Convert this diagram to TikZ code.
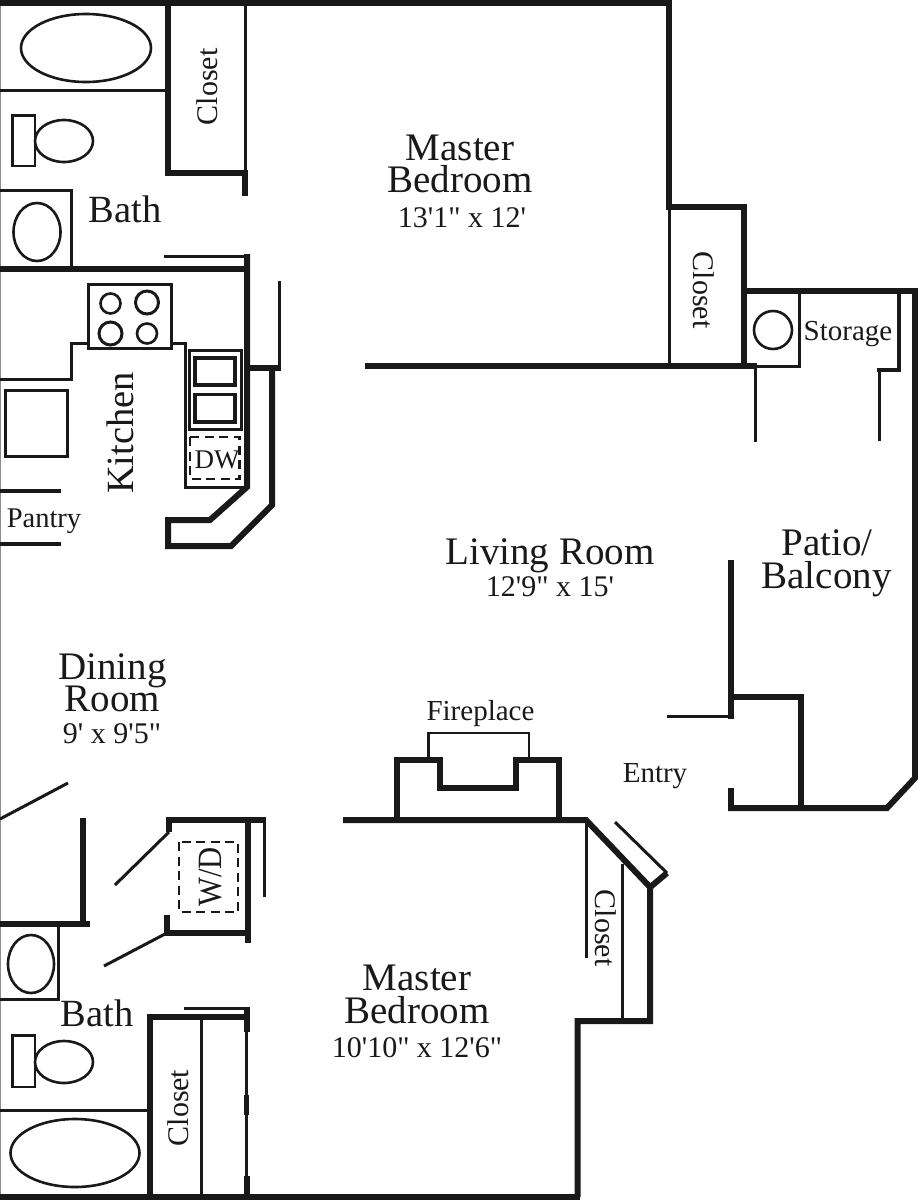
\documentclass[tikz,border=0pt]{standalone}
\usepackage{fontspec}
\setmainfont{Liberation Serif}
\newfontfamily\planfont{Liberation Serif}
\newfontfamily\wdfont{Liberation Serif}[FakeStretch=0.9]
\newcommand{\fsz}[2]{\fontsize{#1}{#2}\selectfont}
\tikzset{
  wall/.style={line width=6pt,black!90,miter limit=10},
  midwall/.style={line width=4.5pt,black!90},
  thin/.style={line width=3pt,black!90},
  fixture/.style={line width=2.6pt,black!90},
  dashbox/.style={line width=2.6pt,black!90,dash pattern=on 9pt off 5.5pt},
  lbl/.style={inner sep=0pt,anchor=base,align=center,text=black!90,font=\planfont},
  big/.style={lbl,font=\planfont\fsz{39}{39}},
  mid/.style={lbl,font=\planfont\fsz{38.5}{38.5}},
  sm/.style={lbl,font=\planfont\fsz{30}{30}},
  tiny/.style={lbl,font=\planfont\fsz{29}{29}}
}
\begin{document}
\begin{tikzpicture}[x=1pt,y=-1pt]
\useasboundingbox (0,0) rectangle (918,1200);
\fill[white] (0,0) rectangle (918,1200);
\draw[line width=1pt,black!45] (0.5,0) -- (0.5,1200);

% --- top walls
\draw[wall] (0,3) -- (669,3) -- (669,207) -- (744,207) -- (744,369);
\draw[wall] (744,291) -- (918,291);
\draw[wall] (915,291) -- (915,778) -- (887,808) -- (728,808);
\draw[wall] (731,808) -- (731,788);
\draw[wall] (801,808) -- (801,697) -- (731,697);
\draw[wall] (731,560) -- (731,719);
\draw[thin] (667,716) -- (733,716);
\draw[wall] (365,366) -- (757,366);
\draw[thin] (669,207) -- (669,366);
\draw[thin] (755,366) -- (755,442);
\draw[thin] (744,366) -- (799,366) -- (799,291);
\draw[midwall] (899,291) -- (899,370) -- (877,370);
\draw[thin] (879,370) -- (879,441);
\draw[fixture] (773,330) circle (19);

% --- top bath
\draw[wall] (168,3) -- (168,173) -- (245,173);
\draw[wall] (245,170) -- (245,196);
\draw[thin] (245,3) -- (245,173);
\draw[thin] (0,90) -- (168,90);
\draw[fixture] (86,48) ellipse (65 and 34);
\draw[fixture] (12.5,115.5) rectangle (35,166);
\draw[fixture] (64,141) ellipse (29 and 21);
\draw[thin] (0,190.5) -- (71,190.5) -- (71,268);
\draw[fixture] (37,232) ellipse (23.5 and 29);
\draw[wall] (0,269) -- (247,269);
\draw[thin] (164,256) -- (247,256);

% --- kitchen
\draw[wall] (247,254) -- (247,487) -- (210,520) -- (168,520) -- (168,546) -- (231,546) -- (272,505) -- (272,368);
\draw[wall] (247,368) -- (281,368);
\draw[thin] (279,281) -- (279,368);
\draw[thin] (88.5,284.5) rectangle (171.5,348.5);
\draw[fixture] (110.5,303.5) circle (10);
\draw[line width=3pt,black!90] (147,302.5) circle (11.5);
\draw[line width=3pt,black!90] (110.5,333.5) circle (11.5);
\draw[fixture] (147,333.5) circle (10);
\draw[thin] (0,379) -- (71,379) -- (71,343) -- (88,343);
\draw[thin] (172,343) -- (185,343) -- (185,487.5) -- (246,487.5);
\draw[thin] (5.5,390.5) rectangle (67.5,456);
\draw[thin] (189.5,350) rectangle (241,429);
\draw[line width=3.5pt,black!90] (195,358) rectangle (235,385);
\draw[line width=3.5pt,black!90] (195,394.5) rectangle (235,422);
\draw[dashbox] (190,437) rectangle (239.5,479);
\draw[midwall] (0,491) -- (61,491);
\draw[midwall] (0,544) -- (61,544);

% --- lower left
\draw[thin] (0,819) -- (68,783);
\draw[wall] (82.5,818) -- (82.5,924);
\draw[wall] (0,924) -- (90,924);
\draw[thin] (0,999.5) -- (58.5,999.5) -- (58.5,924);
\draw[fixture] (31,964) ellipse (23 and 29);

% --- W/D
\draw[wall] (166,820) -- (266,820);
\draw[wall] (169,820) -- (169,832);
\draw[thin] (169,832) -- (115,885);
\draw[wall] (248,820) -- (248,943);
\draw[thin] (264,820) -- (264,897);
\draw[wall] (164,933) -- (248,933);
\draw[wall] (167,915) -- (167,933);
\draw[thin] (165,934) -- (104,966);
\draw[dashbox] (179,842) rectangle (238,912);

% --- bottom
\draw[wall] (0,1197) -- (580,1197);
\draw[wall] (577.5,1197) -- (577.5,1021) -- (650,1021) -- (650,887) -- (586,820) -- (343,820);
\draw[wall] (648,889) -- (667,873);
\draw[thin] (615,822) -- (667,873);
\draw[thin] (586,820) -- (586,958);
\draw[thin] (622,864) -- (622,1021);
\draw[wall] (397,820) -- (397,760) -- (440,760) -- (440,788) -- (516,788) -- (516,760) -- (559,760) -- (559,820);
\draw[fixture] (428.5,759) -- (428.5,733) -- (529,733) -- (529,759);
\draw[wall] (150,1197) -- (150,1017) -- (250,1017);
\draw[thin] (184,1008.5) -- (247,1008.5);
\draw[wall] (247,1007) -- (247,1032);
\draw[thin] (246,1032) -- (246,1176);
\draw[midwall] (246.5,1095) -- (246.5,1115);
\draw[wall] (247,1176) -- (247,1197);
\draw[thin] (201.5,1017) -- (201.5,1197);
\draw[thin] (0,1110) -- (150,1110);
\draw[fixture] (75,1153) ellipse (64.5 and 34);
\draw[fixture] (12.5,1035.5) rectangle (35,1087);
\draw[fixture] (64,1062) ellipse (29 and 21);

% --- labels
\node[big] (t1) at (460,160) {Master};
\node[big] (t2) at (460,192.5) {Bedroom};
\node[sm] (t3) at (462,227) {13'1" x 12'};
\node[big] (t4) at (550,564) {Living Room};
\node[sm] (t5) at (550,596) {12'9" x 15'};
\node[big] (t6) at (827,555) {Patio/};
\node[big] (t7) at (826.5,588.5) {Balcony};
\node[big] (t8) at (112.5,679) {Dining};
\node[big] (t9) at (112.5,711) {Room};
\node[sm] (t10) at (112,743) {9' x 9'5"};
\node[big] (t11) at (417,990) {Master};
\node[big] (t12) at (417,1023.5) {Bedroom};
\node[sm] (t13) at (417,1057) {10'10" x 12'6"};
\node[tiny] (t14) at (480.5,720) {Fireplace};
\node[tiny] (t15) at (655,782) {Entry};
\node[mid] (t16) at (125,222) {Bath};
\node[mid] (t17) at (97,1026) {Bath};
\node[tiny] (t18) at (848,340) {Storage};
\node[lbl,font=\planfont\fsz{28.5}{28.5}] (t19) at (44,527) {Pantry};
\node[lbl,font=\planfont\fsz{27}{27}] (t20) at (217,468) {DW};
\node[sm,rotate=90] (t21) at (217,87) {Closet};
\node[sm,rotate=-90] (t22) at (693,290) {Closet};
\node[sm,rotate=90] (t23) at (188,1108) {Closet};
\node[sm,rotate=-90] (t24) at (595,928) {Closet};
\node[mid,rotate=90] (t25) at (133,433) {Kitchen};
\node[lbl,rotate=90,font=\wdfont\fsz{34}{34}] (t26) at (221,877) {W/D};
\end{tikzpicture}
\end{document}
